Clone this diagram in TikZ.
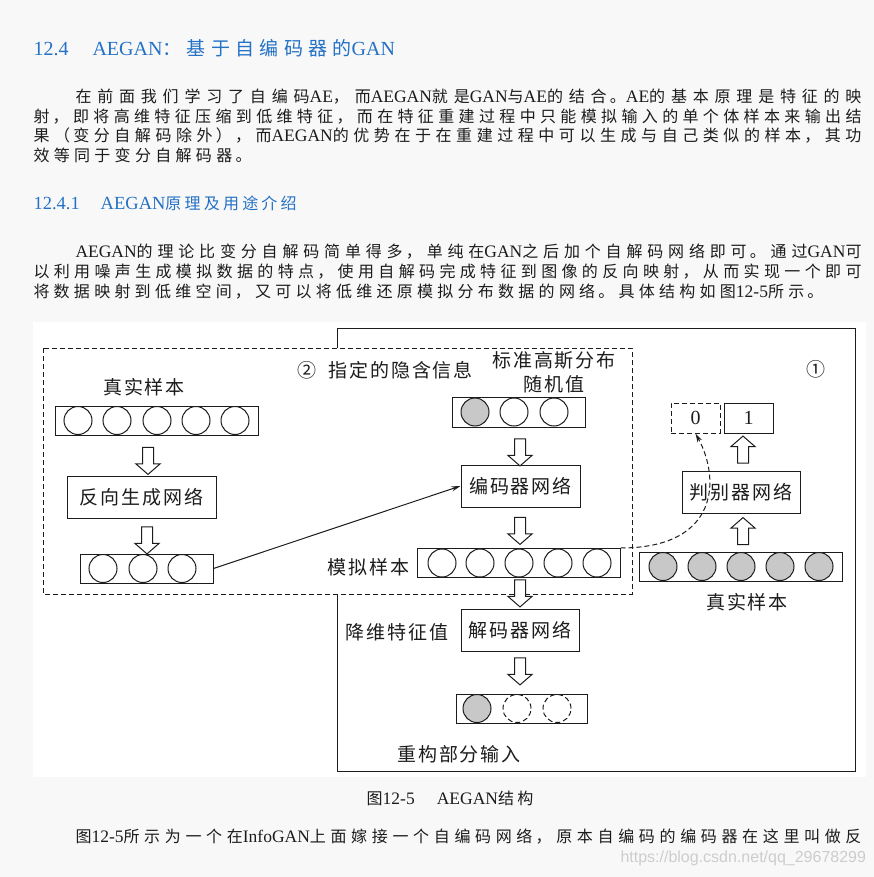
\documentclass[tikz,border=0pt]{standalone}
\usepackage{fontspec}
\setmainfont{Liberation Serif}
\newfontfamily\zhbody{Noto Sans CJK SC}[LetterSpace=20]
\newfontfamily\zhhead{Noto Sans CJK SC}[LetterSpace=28]
\newfontfamily\zhfig{Noto Sans CJK SC}[LetterSpace=10]
\newfontfamily\wmfont{Liberation Sans}
\usetikzlibrary{shapes.arrows,arrows.meta}

\definecolor{pagebg}{RGB}{248,248,248}
\definecolor{headblue}{RGB}{36,113,197}
\definecolor{ink}{RGB}{28,28,28}
\definecolor{unitgrey}{RGB}{200,200,200}
\definecolor{wmgrey}{RGB}{205,205,205}

% text sizes
\newcommand\zb[1]{{\fontsize{16pt}{20pt}\zhbody #1}}
\newcommand\zhd[1]{{\fontsize{19pt}{24pt}\zhhead #1}}
\newcommand\dfont{\fontsize{19pt}{24pt}\zhfig}
\newcommand\justline[2]{\parbox{#1}{\XeTeXlinebreaklocale "zh"\XeTeXlinebreakskip=0pt plus 6pt\tolerance=10000\hbadness=10000\parfillskip=0pt\noindent #2}}

\tikzset{
  dashed/.style={dash pattern=on 5pt off 3pt},
  para/.style={anchor=west, inner sep=0pt, font=\fontsize{17.5pt}{20pt}\selectfont},
  lbl/.style={font=\dfont, inner sep=0pt},
  cell/.style={draw, minimum height=29pt, inner sep=0pt},
  unit/.style={draw, circle, minimum size=28pt, inner sep=0pt},
  netbox/.style={draw, minimum width=118pt, minimum height=42pt, inner sep=0pt, font=\dfont},
  digitbox/.style={draw, minimum width=49pt, minimum height=30pt, inner sep=0pt, font=\fontsize{20pt}{22pt}\selectfont},
  hollow/.style={single arrow, draw, fill=white, minimum height=27pt, inner xsep=0pt, inner ysep=5pt,
    single arrow head extend=6.5pt, single arrow tip angle=98}
}

\begin{document}
\begin{tikzpicture}[x=1pt, y=-1pt, color=ink, line width=1pt, >={Stealth[length=9pt,width=5pt]}]
  \useasboundingbox (0,0) rectangle (874,877);
  \fill[pagebg] (0,0) rectangle (874,877);

  % page text
  \node[para, text=headblue, font=\fontsize{20pt}{24pt}\selectfont] (title) at (33,48)
    {12.4\hspace{24pt}AEGAN\zhd{：基于自编码器的}GAN};
  \node[para] (p1a) at (75,97) {\justline{786pt}{\zb{在前面我们学习了自编码}AE\zb{，而}AEGAN\zb{就是}GAN\zb{与}AE\zb{的结合。}AE\zb{的基本原理是特征的映}}};
  \node[para] (p1b) at (33,117) {\justline{828pt}{\zb{射，即将高维特征压缩到低维特征，而在特征重建过程中只能模拟输入的单个体样本来输出结}}};
  \node[para] (p1c) at (33,136) {\justline{828pt}{\zb{果（变分自解码除外），而}AEGAN\zb{的优势在于在重建过程中可以生成与自己类似的样本，其功}}};
  \node[para] (p1d) at (33,155) {\justline{218pt}{\zb{效等同于变分自解码器。}}};
  \node[para, text=headblue, font=\fontsize{18.5pt}{22pt}\selectfont] (subtitle) at (33,203)
    {12.4.1\hspace{21pt}AEGAN\zb{原理及用途介绍}};
  \node[para] (p2a) at (75,252) {\justline{786pt}{AEGAN\zb{的理论比变分自解码简单得多，单纯在}GAN\zb{之后加个自解码网络即可。通过}GAN\zb{可}}};
  \node[para] (p2b) at (33,272) {\justline{828pt}{\zb{以利用噪声生成模拟数据的特点，使用自解码完成特征到图像的反向映射，从而实现一个即可}}};
  \node[para] (p2c) at (33,292) {\justline{790pt}{\zb{将数据映射到低维空间，又可以将低维还原模拟分布数据的网络。具体结构如图}12-5\zb{所示。}}};

  % figure
  \fill[white] (33,322) rectangle (866,777);
  \draw (337,328) rectangle (855,771);
  \draw[dashed, fill=white] (43,348) rectangle (632,594);

  \node[lbl, anchor=west] (hint) at (297,370) {②\hspace{12pt}指定的隐含信息};
  \node[lbl, align=center] (gauss) at (554,372) {标准高斯分布\\随机值};
  \node[lbl] (tagA) at (816,369) {①};

  % left column
  \node[lbl] (realLtxt) at (144,387) {真实样本};
  \node[cell, minimum width=203pt] (realL) at (156.5,420.5) {};
  \foreach \x [count=\i] in {78,117,157,196,235}
    \node[unit] (realL\i) at (\x,420.5) {};
  \node[hollow, rotate=-90] (a1) at (148,458.5) {};
  \node[netbox, minimum width=149pt] (gen) at (141.5,497) {反向生成网络};
  \node[hollow, rotate=-90] (a2) at (147,538) {};
  \node[cell, minimum width=133pt] (fakeL) at (146.5,568.5) {};
  \foreach \x [count=\i] in {103,143,182}
    \node[unit] (fakeL\i) at (\x,568.5) {};

  % middle column
  \node[cell, minimum width=133pt, minimum height=30pt] (noise) at (518.5,412) {};
  \node[unit, fill=unitgrey] (noise1) at (475,412) {};
  \node[unit] (noise2) at (514,412) {};
  \node[unit] (noise3) at (554,412) {};
  \node[hollow, rotate=-90] (a3) at (520,450) {};
  \node[netbox, minimum width=119pt] (enc) at (520.5,486) {编码器网络};
  \node[hollow, rotate=-90] (a4) at (520,528.5) {};
  \node[lbl] (faketxt) at (368.5,567) {模拟样本};
  \node[cell, minimum width=203pt] (fake) at (518.5,563) {};
  \foreach \x [count=\i] in {442,480,519,558,597}
    \node[unit] (fake\i) at (\x,563) {};
  \node[hollow, rotate=-90] (a5) at (520,591) {};
  \node[lbl] (dimtxt) at (397,632) {降维特征值};
  \node[netbox] (dec) at (520,630.5) {解码器网络};
  \node[hollow, rotate=-90] (a6) at (520,669) {};
  \node[cell, minimum width=131pt] (recon) at (521.5,708.5) {};
  \node[unit, fill=unitgrey] (recon1) at (477,708.5) {};
  \node[unit, dashed] (recon2) at (517,708.5) {};
  \node[unit, dashed] (recon3) at (557,708.5) {};
  \node[lbl] (recontxt) at (459,754) {重构部分输入};

  % right column
  \node[cell, minimum width=203pt] (realR) at (740.5,566.5) {};
  \foreach \x [count=\i] in {663,702,741,780,819}
    \node[unit, fill=unitgrey] (realR\i) at (\x,566.5) {};
  \node[lbl] (realRtxt) at (747,602) {真实样本};
  \node[hollow, rotate=90] (a7) at (743,533.5) {};
  \node[netbox] (disc) at (741,492) {判别器网络};
  \node[hollow, rotate=90] (a8) at (743,452) {};
  \node[digitbox] (one) at (748.5,418) {1};
  \node[digitbox, dashed] (zero) at (695.5,418) {0};

  \draw[->] (fakeL.east) -- (enc.west);
  \draw[->, dashed] (fake.north east) .. controls (720,548) and (720,478) .. (zero.south);

  % caption and next line
  \node[font=\fontsize{17.5pt}{20pt}\selectfont, inner sep=0pt] (cap) at (450,798)
    {\zb{图}12-5\hspace{22pt}AEGAN\zb{结构}};
  \node[para] (p3a) at (75,837) {\justline{786pt}{\zb{图}12-5\zb{所示为一个在}InfoGAN\zb{上面嫁接一个自编码网络，原本自编码的编码器在这里叫做反}}};
  \node[anchor=west, inner sep=0pt, text=wmgrey, font=\wmfont\fontsize{16pt}{18pt}\selectfont] (wm) at (620,858)
    {https://blog.csdn.net/qq\_29678299};
\end{tikzpicture}
\end{document}
